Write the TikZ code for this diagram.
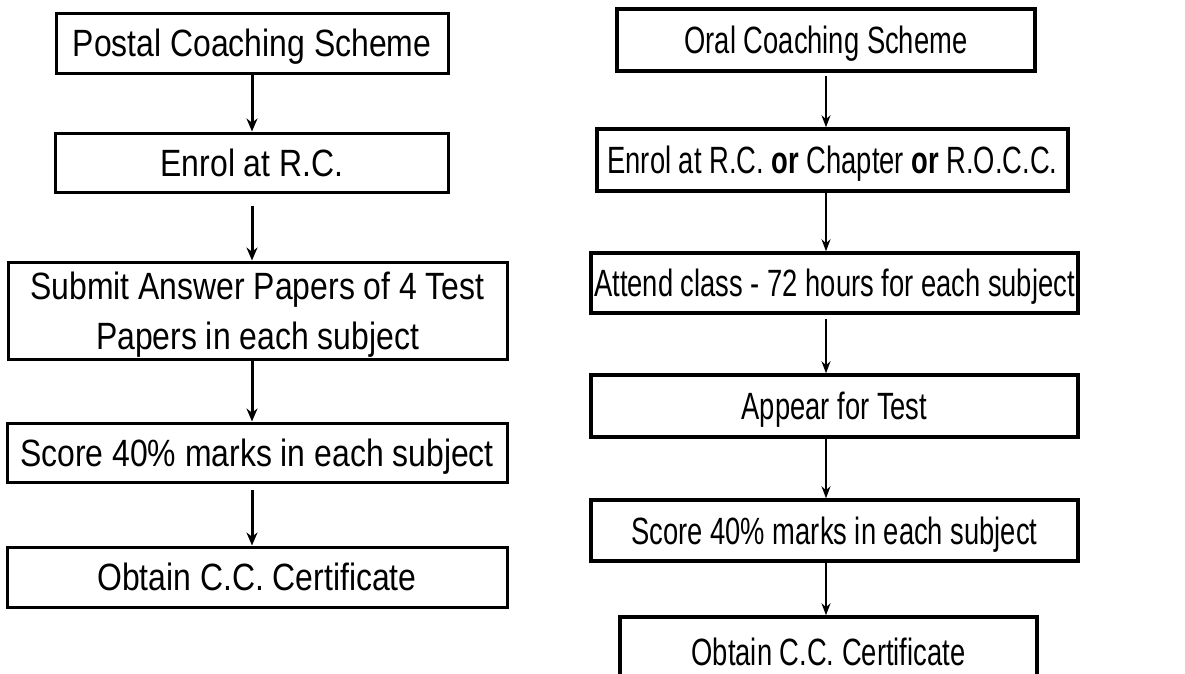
\documentclass[tikz,border=0pt]{standalone}
\usepackage{fontspec}
\setmainfont{Liberation Sans}
\newfontfamily\postalfont[FakeStretch=0.84]{Liberation Sans}
\newfontfamily\oralfont[FakeStretch=0.72]{Liberation Sans}
\usetikzlibrary{arrows.meta}

\begin{document}
\begin{tikzpicture}[x=1pt,y=-1pt,
    lbox/.style={draw, line width=3pt, inner sep=0pt, align=center, text depth=0pt,
        font=\postalfont\fontsize{38}{50}\selectfont},
    rbox/.style={draw, line width=3.5pt, inner sep=0pt, align=center, text depth=0pt,
        font=\oralfont\fontsize{38}{48}\selectfont},
    larr/.style={line width=3pt, -{Stealth[length=13pt,width=11pt]}},
    rarr/.style={line width=1.6pt, -{Stealth[length=12pt,width=9pt]}}]
    \useasboundingbox (0,0) rectangle (1185,673);

    % postal coaching
    \node[lbox, minimum width=392pt, minimum height=60pt] (postal) at (252,43) {Postal Coaching Scheme};
    \node[lbox, minimum width=393pt, minimum height=59pt] (lenrol) at (252,162.5) {Enrol at R.C.};
    \node[lbox, minimum width=499pt, minimum height=97pt] (submit) at (257.5,310.5) {Submit Answer Papers of 4 Test\\Papers in each subject};
    \node[lbox, minimum width=500pt, minimum height=59pt] (lscore) at (257,452.5) {Score 40\% marks in each subject};
    \node[lbox, minimum width=500pt, minimum height=60pt] (lobtain) at (257,577) {Obtain C.C. Certificate};

    \draw[larr] (postal.south) -- (postal.south |- lenrol.north);
    \draw[larr, shorten <=12pt] (lenrol.south) -- (lenrol.south |- submit.north);
    \draw[larr] (lenrol.south |- submit.south) -- (lenrol.south |- lscore.north);
    \draw[larr, shorten <=6pt] (lenrol.south |- lscore.south) -- (lenrol.south |- lobtain.north);

    % oral coaching
    \node[rbox, minimum width=418pt, minimum height=62pt] (oral) at (826,40) {Oral Coaching Scheme};
    \node[rbox, minimum width=471pt, minimum height=62pt] (renrol) at (832.5,160) {Enrol at R.C. \textbf{or} Chapter \textbf{or} R.O.C.C.};
    \node[rbox, minimum width=487pt, minimum height=60pt] (attend) at (834.5,283) {Attend class - 72 hours for each subject};
    \node[rbox, minimum width=487pt, minimum height=62pt] (appear) at (834.5,406) {Appear for Test};
    \node[rbox, minimum width=487pt, minimum height=61pt] (rscore) at (834.5,530.5) {Score 40\% marks in each subject};
    \node[rbox, minimum width=417pt, minimum height=70pt] (robtain) at (828.5,652) {Obtain C.C. Certificate};

    \draw[rarr, shorten <=3pt] (oral.south) -- (oral.south |- renrol.north);
    \draw[rarr] (oral.south |- renrol.south) -- (oral.south |- attend.north);
    \draw[rarr, shorten <=4pt] (oral.south |- attend.south) -- (oral.south |- appear.north);
    \draw[rarr] (oral.south |- appear.south) -- (oral.south |- rscore.north);
    \draw[rarr] (oral.south |- rscore.south) -- (oral.south |- robtain.north);
\end{tikzpicture}
\end{document}
